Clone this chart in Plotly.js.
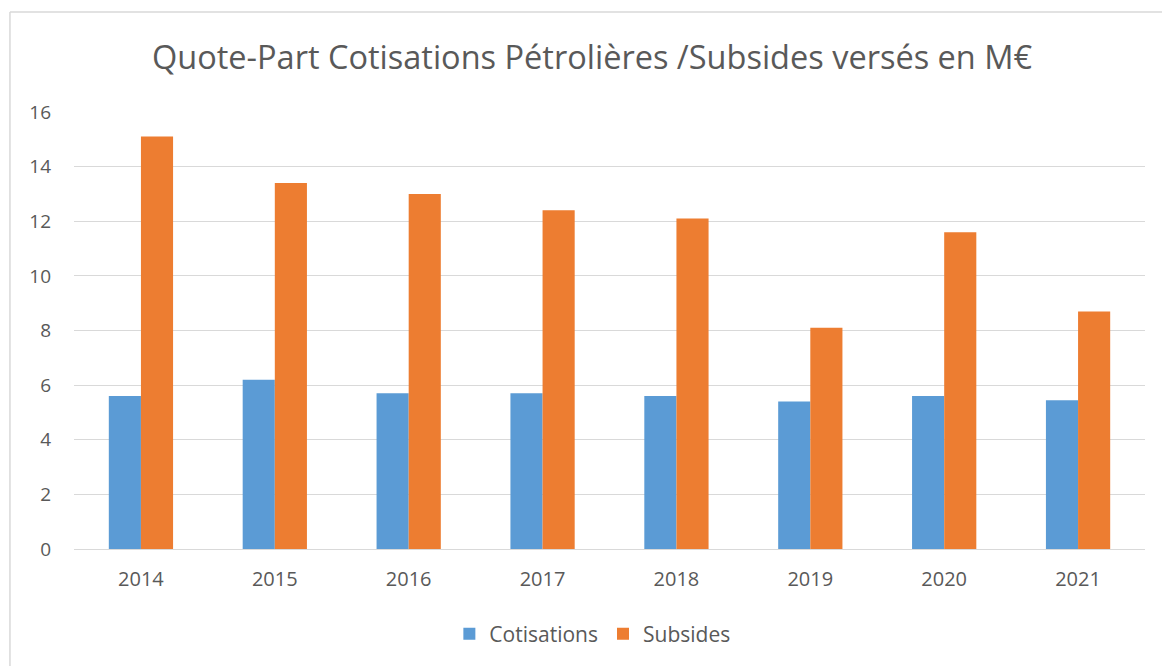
<!DOCTYPE html>
<html>
<head>
<meta charset="utf-8">
<script src="https://cdn.plot.ly/plotly-3.0.1.min.js"></script>
<style>html,body{margin:0;padding:0;background:#fff;}#chart{width:1162px;height:666px;}</style>
</head>
<body>
<div id="chart"></div>
<script>
const years = ["2014","2015","2016","2017","2018","2019","2020","2021"];
const cotisations = [5.6, 6.2, 5.7, 5.7, 5.6, 5.4, 5.6, 5.45];
const subsides = [15.1, 13.4, 13.0, 12.4, 12.1, 8.1, 11.6, 8.7];
const yTicks = [0, 2, 4, 6, 8, 10, 12, 14, 16];

const font = "Open Sans, Noto Sans, sans-serif";
const data = [
  {type: "bar", name: "Cotisations", x: years, y: cotisations, marker: {color: "#5b9bd5"}},
  {type: "bar", name: "Subsides", x: years, y: subsides, marker: {color: "#ed7d31"}}
];
const layout = {
  width: 1162, height: 666,
  margin: {l: 74, r: 17, t: 112, b: 116},
  paper_bgcolor: "#fff", plot_bgcolor: "#fff",
  font: {family: font, color: "#595959"},
  title: {text: "Quote-Part Cotisations Pétrolières /Subsides versés en M€", x: 0.5095, xanchor: "center", y: 0.913, yanchor: "middle", font: {size: 32.5, color: "#595959", family: font}},
  barmode: "group", bargap: 0.52, bargroupgap: 0,
  xaxis: {type: "category", tickfont: {size: 20, color: "#595959"}, showline: true, linecolor: "#d9d9d9", linewidth: 1, ticks: "", ticklabelstandoff: 12, showgrid: false},
  yaxis: {range: [0, 16], tickvals: yTicks, ticktext: yTicks.map(String), tickfont: {size: 19, color: "#595959"}, showgrid: true, gridcolor: "#d9d9d9", gridwidth: 1, zeroline: true, zerolinecolor: "#d9d9d9", ticks: "", ticklabelstandoff: 22, showline: false},
  legend: {orientation: "h", x: 0.484, xanchor: "center", y: -0.192, yanchor: "middle", font: {size: 21, color: "#595959"}, traceorder: "normal"},
  shapes: [
    {type: "line", xref: "paper", yref: "paper", x0: -0.0598, x1: -0.0598, y0: -0.27, y1: 1.229, line: {color: "#d9d9d9", width: 1.5}},
    {type: "line", xref: "paper", yref: "paper", x0: -0.0598, x1: 1.02, y0: 1.229, y1: 1.229, line: {color: "#d9d9d9", width: 1.5}}
  ],
  showlegend: true
};
Plotly.newPlot("chart", data, layout, {displayModeBar: false, staticPlot: true});
</script>
</body>
</html>
